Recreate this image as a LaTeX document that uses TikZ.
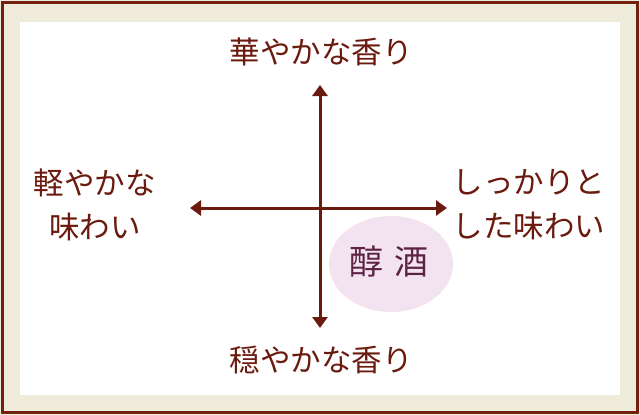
\documentclass[tikz,border=0pt]{standalone}
\usepackage{fontspec}
\newfontfamily\jp{Noto Sans CJK JP}
\usetikzlibrary{arrows.meta,shapes.geometric}
\definecolor{framebrown}{HTML}{74200F}
\definecolor{beige}{HTML}{EFECDC}
\definecolor{txtbrown}{HTML}{6B1A0E}
\definecolor{axbrown}{HTML}{6B1A10}
\definecolor{pinkbg}{HTML}{F3E3F0}
\definecolor{purpletxt}{HTML}{5C2346}
\tikzset{
  lbl/.style={font=\jp\fontsize{30.5}{44}\selectfont, text=txtbrown, align=center, inner sep=0pt},
  axis/.style={draw=axbrown, line width=3pt, -{Triangle[width=15pt,length=11pt]}},
}
\begin{document}
\begin{tikzpicture}[x=1pt,y=-1pt]
\useasboundingbox (0,0) rectangle (640,415);
\fill[beige] (0,0) rectangle (640,415);
\draw[framebrown, line width=3pt] (2,2.5) rectangle (637.5,412.5);
\fill[white] (20,22) rectangle (620,395);
\coordinate (c) at (320,208);
\node[ellipse, fill=pinkbg, minimum width=124pt, minimum height=96pt, inner sep=0pt] (el) at (391,264) {};
\node[font=\jp\fontsize{34}{36}\selectfont, text=purpletxt, inner sep=0pt] (jun) at (389,262) {醇\hspace{0.3em}酒};
\coordinate (top) at (320,85);
\coordinate (bot) at (320,328);
\coordinate (lft) at (190,208);
\coordinate (rgt) at (447,208);
\draw[axis] (c) -- (top);
\draw[axis] (c) -- (bot);
\draw[axis] (c) -- (lft);
\draw[axis] (c) -- (rgt);
\node[lbl] (t) at (321,52) {華やかな香り};
\node[lbl] (b) at (321,360) {穏やかな香り};
\node[lbl] (l) at (95,205) {軽やかな\\味わい};
\node[lbl] (r) at (529,205) {しっかりと\\した味わい};
\end{tikzpicture}
\end{document}
